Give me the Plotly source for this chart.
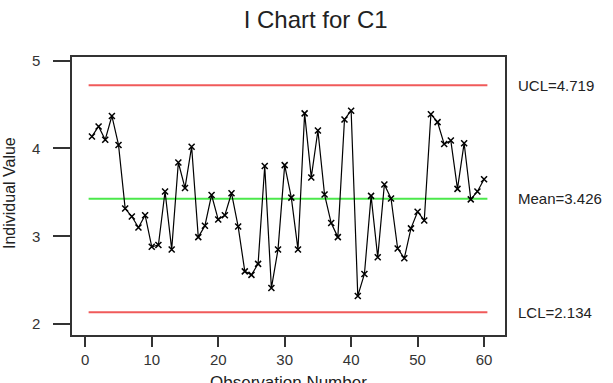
import plotly.graph_objects as go

obs = list(range(1, 61))
values = [4.137, 4.25, 4.10, 4.37, 4.04, 3.316, 3.225, 3.10, 3.24, 2.88,
          2.90, 3.51, 2.85, 3.84, 3.55, 4.02, 2.99, 3.12, 3.47, 3.19,
          3.24, 3.49, 3.11, 2.60, 2.56, 2.685, 3.80, 2.41, 2.85, 3.81,
          3.44, 2.85, 4.40, 3.67, 4.205, 3.475, 3.15, 2.99, 4.33, 4.43,
          2.32, 2.57, 3.46, 2.76, 3.59, 3.43, 2.86, 2.75, 3.09, 3.28,
          3.18, 4.39, 4.30, 4.05, 4.09, 3.54, 4.06, 3.42, 3.51, 3.65]
ucl = 4.719
mean = 3.426
lcl = 2.134
limit_labels = ["UCL=4.719", "Mean=3.426", "LCL=2.134"]
x_ticks = [0, 10, 20, 30, 40, 50, 60]
y_ticks = [2, 3, 4, 5]
line_span = [0.5, 60.5]

FONT = "Liberation Sans, Arial, sans-serif"
RED = "#f05a5a"
GREEN = "#4be84b"

fig = go.Figure()
for val, col in [(ucl, RED), (mean, GREEN), (lcl, RED)]:
    fig.add_trace(go.Scatter(x=line_span, y=[val, val], mode="lines",
                             line=dict(color=col, width=2), hoverinfo="skip"))

fig.add_trace(go.Scatter(x=obs, y=values, mode="lines+markers",
                         line=dict(color="black", width=1.2),
                         marker=dict(symbol="x-thin", size=6, color="black",
                                     line=dict(color="black", width=1.5))))

for val, txt in zip([ucl, mean, lcl], limit_labels):
    fig.add_annotation(x=1.025, xref="paper", y=val, yref="y", text=txt,
                       showarrow=False, xanchor="left", yanchor="middle",
                       font=dict(family=FONT, size=15, color="#222"))

fig.add_annotation(x=0.5, xref="paper", y=-0.128, yref="paper",
                   text="Observation Number", showarrow=False,
                   xanchor="center", yanchor="top",
                   font=dict(family=FONT, size=17, color="#222"))
fig.add_annotation(x=-0.143, xref="paper", y=0.511, yref="paper",
                   text="Individual Value", showarrow=False, textangle=-90,
                   xanchor="center", yanchor="middle",
                   font=dict(family=FONT, size=16, color="#222"))

fig.update_layout(
    width=613, height=383,
    margin=dict(l=72, r=108, t=57, b=48),
    paper_bgcolor="white", plot_bgcolor="white",
    showlegend=False,
    title=dict(text="I Chart for C1", x=0.515, xref="container", xanchor="center",
               y=1 - 20 / 383, yref="container", yanchor="middle",
               font=dict(family=FONT, size=24, color="#222")),
    xaxis=dict(range=[-2, 63.15], tickvals=x_ticks, ticks="outside", ticklen=10,
               tickwidth=1.5, tickcolor="#333", showgrid=False, zeroline=False,
               showline=True, mirror=True, linecolor="#333", linewidth=1.5,
               tickfont=dict(family=FONT, size=15, color="#333")),
    yaxis=dict(range=[1.875, 5.042], tickvals=y_ticks, ticks="outside", ticklen=17,
               tickwidth=1.5, tickcolor="#333", showgrid=False, zeroline=False,
               showline=True, mirror=True, linecolor="#333", linewidth=1.5,
               tickfont=dict(family=FONT, size=15, color="#333"),
               ticklabelstandoff=10),
)

fig.write_html("out.html")
